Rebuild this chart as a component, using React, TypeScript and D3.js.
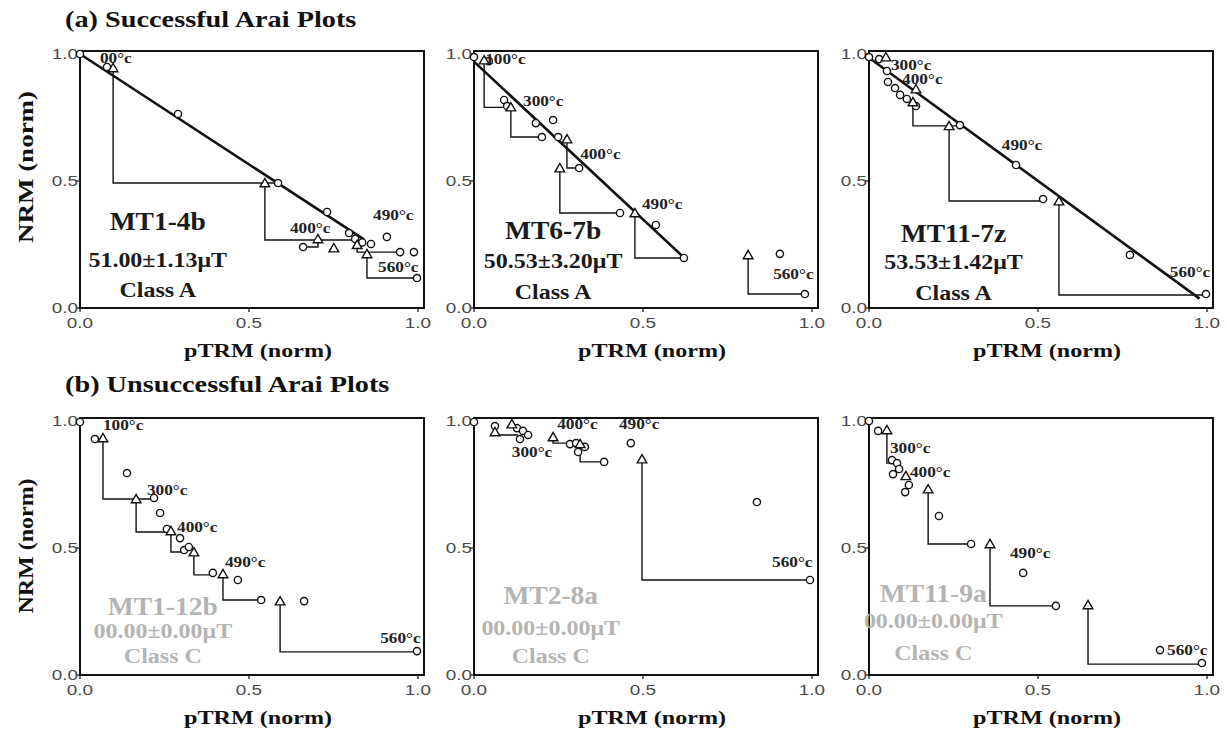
import React from 'react';
import * as d3 from 'd3';

// values, normalised NRM vs pTRM
// points: [pTRM, NRM]
// checks: [pTRM of check, NRM of check, NRM of step, pTRM of step]
// temps: [label, pTRM, NRM]

const mt14bPoints = [[0, 1.0], [0.08, 0.949], [0.29, 0.764], [0.586, 0.492], [0.731, 0.378], [0.796, 0.295], [0.814, 0.272], [0.835, 0.258], [0.861, 0.252], [0.908, 0.28], [0.66, 0.24], [0.947, 0.22], [0.988, 0.22], [0.997, 0.118]];
const mt14bChecks = [[0.098, 0.941, 0.492, 0.586], [0.547, 0.488, 0.268, 0.814], [0.704, 0.268, 0.24, 0.66], [0.751, 0.232, 0.232, 0.751], [0.82, 0.245, 0.22, 0.947], [0.849, 0.209, 0.118, 0.997]];
const mt14bFit = [[0, 1.0], [0.84, 0.27]];
const mt14bTemps = [['00°c', 0.059, 0.965], ['400°c', 0.621, 0.295], ['490°c', 0.867, 0.346], ['560°c', 0.882, 0.142]];

const mt67bPoints = [[0, 0.988], [0.044, 0.972], [0.089, 0.819], [0.098, 0.795], [0.183, 0.728], [0.234, 0.74], [0.201, 0.673], [0.249, 0.673], [0.311, 0.551], [0.432, 0.374], [0.538, 0.327], [0.621, 0.197], [0.905, 0.213], [0.979, 0.055]];
const mt67bChecks = [[0.03, 0.972, 0.79, 0.098], [0.109, 0.787, 0.673, 0.201], [0.275, 0.661, 0.551, 0.311], [0.254, 0.547, 0.374, 0.432], [0.476, 0.37, 0.197, 0.621], [0.811, 0.205, 0.055, 0.979]];
const mt67bFit = [[0, 0.97], [0.62, 0.2]];
const mt67bTemps = [['100°c', 0.033, 0.96], ['300°c', 0.145, 0.795], ['400°c', 0.314, 0.587], ['490°c', 0.497, 0.39], ['560°c', 0.885, 0.114]];

const mt117zPoints = [[0, 0.988], [0.03, 0.98], [0.053, 0.933], [0.056, 0.89], [0.077, 0.866], [0.092, 0.839], [0.112, 0.823], [0.139, 0.795], [0.269, 0.72], [0.435, 0.563], [0.515, 0.429], [0.772, 0.209], [0.997, 0.055]];
const mt117zChecks = [[0.05, 0.984, 0.984, 0.05], [0.139, 0.858, 0.858, 0.139], [0.13, 0.807, 0.717, 0.269], [0.237, 0.713, 0.421, 0.515], [0.562, 0.417, 0.051, 0.997]];
const mt117zFit = [[0, 0.985], [0.978, 0.037]];
const mt117zTemps = [['300°c', 0.065, 0.937], ['400°c', 0.098, 0.882], ['490°c', 0.393, 0.622], ['560°c', 0.89, 0.122]];

const mt112bPoints = [[0, 0.996], [0.044, 0.929], [0.139, 0.795], [0.219, 0.697], [0.237, 0.638], [0.257, 0.575], [0.296, 0.539], [0.308, 0.492], [0.322, 0.504], [0.393, 0.402], [0.467, 0.374], [0.536, 0.295], [0.663, 0.291], [0.997, 0.094]];
const mt112bChecks = [[0.068, 0.929, 0.693, 0.219], [0.166, 0.689, 0.563, 0.257], [0.269, 0.563, 0.484, 0.308], [0.337, 0.48, 0.394, 0.393], [0.423, 0.394, 0.295, 0.536], [0.592, 0.287, 0.091, 0.997]];
const mt112bTemps = [['100°c', 0.068, 0.965], ['300°c', 0.198, 0.709], ['400°c', 0.287, 0.563], ['490°c', 0.429, 0.425], ['560°c', 0.888, 0.126]];

const mt28aPoints = [[0, 0.996], [0.062, 0.98], [0.127, 0.972], [0.145, 0.961], [0.16, 0.945], [0.136, 0.929], [0.284, 0.909], [0.302, 0.913], [0.328, 0.898], [0.308, 0.878], [0.385, 0.839], [0.464, 0.913], [0.837, 0.681], [0.994, 0.374]];
const mt28aChecks = [[0.062, 0.953, 0.945, 0.13], [0.112, 0.984, 0.984, 0.112], [0.234, 0.933, 0.913, 0.284], [0.314, 0.906, 0.839, 0.385], [0.497, 0.846, 0.374, 0.994]];
const mt28aTemps = [['300°c', 0.112, 0.86], ['400°c', 0.246, 0.968], ['490°c', 0.429, 0.968], ['560°c', 0.882, 0.425]];

const mt119aPoints = [[0, 1.0], [0.027, 0.961], [0.068, 0.846], [0.083, 0.834], [0.089, 0.811], [0.071, 0.791], [0.118, 0.748], [0.107, 0.72], [0.207, 0.626], [0.302, 0.516], [0.456, 0.402], [0.553, 0.272], [0.861, 0.098], [0.985, 0.047]];
const mt119aChecks = [[0.053, 0.961, 0.834, 0.068], [0.109, 0.78, 0.78, 0.109], [0.175, 0.728, 0.516, 0.302], [0.358, 0.512, 0.272, 0.553], [0.648, 0.272, 0.043, 0.985]];
const mt119aTemps = [['300°c', 0.062, 0.874], ['400°c', 0.121, 0.78], ['490°c', 0.417, 0.46], ['560°c', 0.882, 0.079]];

const sampleNames = ['MT1-4b', 'MT6-7b', 'MT11-7z', 'MT1-12b', 'MT2-8a', 'MT11-9a'];
const sampleFields = ['51.00±1.13μT', '50.53±3.20μT', '53.53±1.42μT', '00.00±0.00μT', '00.00±0.00μT', '00.00±0.00μT'];
const sampleClasses = ['Class A', 'Class A', 'Class A', 'Class C', 'Class C', 'Class C'];
const axisTicks = [0, 0.5, 1.0];
const rowTitles = ['(a) Successful Arai Plots', '(b) Unsuccessful Arai Plots'];

const panels = [
  { points: mt14bPoints, checks: mt14bChecks, fit: mt14bFit, temps: mt14bTemps },
  { points: mt67bPoints, checks: mt67bChecks, fit: mt67bFit, temps: mt67bTemps },
  { points: mt117zPoints, checks: mt117zChecks, fit: mt117zFit, temps: mt117zTemps },
  { points: mt112bPoints, checks: mt112bChecks, fit: null, temps: mt112bTemps },
  { points: mt28aPoints, checks: mt28aChecks, fit: null, temps: mt28aTemps },
  { points: mt119aPoints, checks: mt119aChecks, fit: null, temps: mt119aTemps },
];

// layout
const W = 338;
const H = 254;
const colX = [80, 474, 869];
const rowY = [308, 675];
// sample text block: [centre pTRM, name NRM, field NRM, class NRM]
const sampleTextPos = [
  [0.23, 0.307, 0.161, 0.043],
  [0.234, 0.27, 0.157, 0.035],
  [0.25, 0.26, 0.154, 0.03],
  [0.245, 0.236, 0.146, 0.047],
  [0.227, 0.28, 0.157, 0.047],
  [0.19, 0.287, 0.185, 0.06],
];
const serif = "'Liberation Serif', 'Times New Roman', serif";
const sans = "'Liberation Sans', Arial, sans-serif";

const T = ({ x, y, sx = 1, rot = 0, anchor = 'start', size, weight = 'bold', family = serif, fill = '#111', dy = null, children }) => (
  <text
    transform={`translate(${x},${y})${rot ? ` rotate(${rot})` : ''} scale(${sx},1)`}
    textAnchor={anchor}
    fontSize={size}
    fontWeight={weight}
    fontFamily={family}
    fill={fill}
    dy={dy}
  >
    {children}
  </text>
);

function Panel({ idx }) {
  const p = panels[idx];
  const col = idx % 3;
  const row = Math.floor(idx / 3);
  const ox = colX[col];
  const oy = rowY[row];
  const x = d3.scaleLinear().domain([0, 1]).range([ox, ox + W]);
  const y = d3.scaleLinear().domain([0, 1]).range([oy, oy - H]);
  const line = d3.line().x((d) => x(d[0])).y((d) => y(d[1]));
  const tri = d3.symbol(d3.symbolTriangle, 40)();
  const fmt = d3.format('.1f');
  const txt = sampleTextPos[idx];
  const faded = sampleClasses[idx] === 'Class C';
  const sampleFill = faded ? '#b4b4b4' : '#1a1a1a';

  return (
    <g>
      <rect x={x(0)} y={y(1) - 3} width={x(1) - x(0) + 6} height={y(0) - y(1) + 3}
        fill="none" stroke="#111" strokeWidth={2} />

      {axisTicks.map((t) => (
        <g key={'y' + t}>
          <line x1={x(0) - 4} x2={x(0)} y1={y(t)} y2={y(t)} stroke="#111" strokeWidth={1.2} />
          <T x={x(0) - 2} y={y(t)} dy="0.36em" sx={1.35} anchor="end" size={14} weight="normal" family={sans} fill="#4a4a4a">{fmt(t)}</T>
        </g>
      ))}
      {axisTicks.map((t) => (
        <g key={'x' + t}>
          <line x1={x(t)} x2={x(t)} y1={y(0)} y2={y(0) + 4} stroke="#111" strokeWidth={1.2} />
          <T x={x(t)} y={y(0) + 20} sx={1.35} anchor="middle" size={14} weight="normal" family={sans} fill="#4a4a4a">{fmt(t)}</T>
        </g>
      ))}

      <g>
        <T x={x(txt[0])} y={y(txt[1])} sx={1.1} anchor="middle" size={25} fill={sampleFill}>{sampleNames[idx]}</T>
        <T x={x(txt[0])} y={y(txt[2])} sx={1.2} anchor="middle" size={20} fill={sampleFill}>{sampleFields[idx]}</T>
        <T x={x(txt[0])} y={y(txt[3])} sx={1.2} anchor="middle" size={20} fill={sampleFill}>{sampleClasses[idx]}</T>
      </g>

      {p.checks.map((c, i) => (
        <path key={'c' + i} d={line([[c[0], c[1]], [c[0], c[2]], [c[3], c[2]]])}
          fill="none" stroke="#111" strokeWidth={1.4} />
      ))}

      {p.fit && (
        <path d={line(p.fit)} fill="none" stroke="#111" strokeWidth={2.6} />
      )}

      {p.points.map((d, i) => (
        <circle key={'p' + i} cx={x(d[0])} cy={y(d[1])} r={3.6}
          fill="#fff" stroke="#111" strokeWidth={1.4} />
      ))}
      {p.checks.map((c, i) => (
        <path key={'t' + i} d={tri} transform={`translate(${x(c[0])},${y(c[1])})`}
          fill="#fff" stroke="#111" strokeWidth={1.4} />
      ))}

      {p.temps.map((t, i) => (
        <T key={'l' + i} x={x(t[1])} y={y(t[2])} sx={1.15} size={15} fill="#222">{t[0]}</T>
      ))}

      <T x={ox + 178} y={oy + 49} sx={1.27} anchor="middle" size={19}>pTRM (norm)</T>
    </g>
  );
}

export default function App() {
  const nrmShift = [-14, -2];
  const nrmStretch = [1.35, 1.2];
  return (
    <svg width={1227} height={731} style={{ position: 'absolute', left: 0, top: 0, background: '#fff' }}>
      <rect width={1227} height={731} fill="#fff" />
      {rowTitles.map((t, r) => (
        <T key={t} x={65} y={r === 0 ? 27 : 392} sx={1.23} size={23}>{t}</T>
      ))}
      {rowY.map((oy, r) => (
        <T key={'nrm' + r} x={33} y={oy - H / 2 + nrmShift[r]} rot={-90} sx={nrmStretch[r]} anchor="middle" size={20}>NRM (norm)</T>
      ))}
      {panels.map((p, i) => (
        <Panel key={i} idx={i} />
      ))}
    </svg>
  );
}
